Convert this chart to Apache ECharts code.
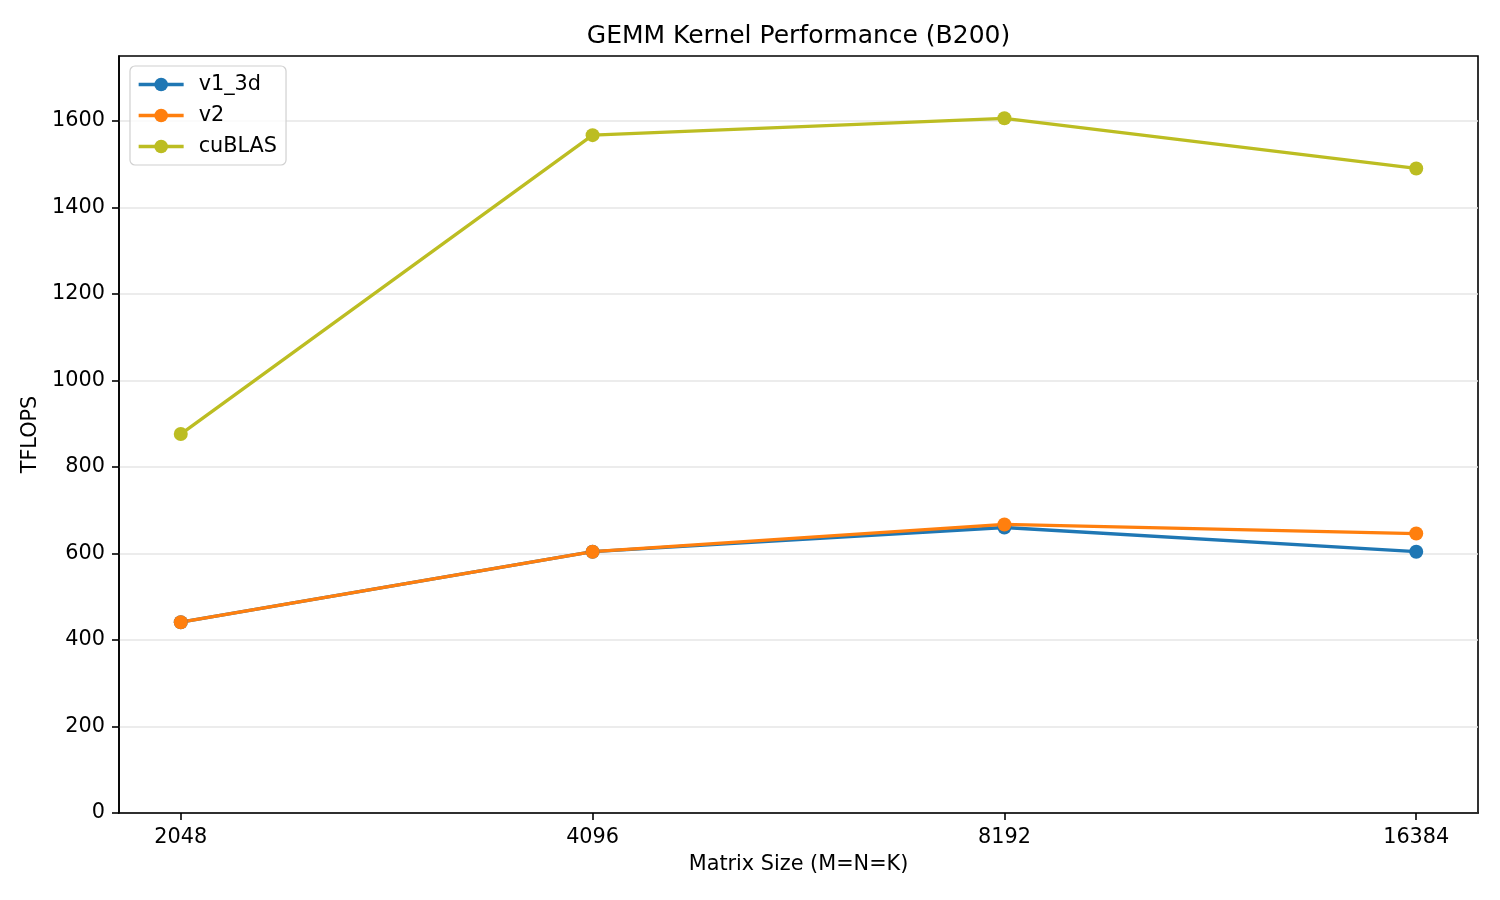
<!DOCTYPE html>
<html>
<head>
<meta charset="utf-8">
<script src="https://cdn.jsdelivr.net/npm/echarts@6/dist/echarts.min.js"></script>
<style>html,body{margin:0;padding:0;background:#fff}#c{width:1500px;height:900px}</style>
</head>
<body>
<div id="c"></div>
<script>
const sizes = ['2048', '4096', '8192', '16384'];
const v1_3d = [441, 604, 660, 604];
const v2 = [441, 604, 667, 646];
const cublas = [876, 1567, 1606, 1490];
const yTicks = [0, 200, 400, 600, 800, 1000, 1200, 1400, 1600];
const seriesNames = ['v1_3d', 'v2', 'cuBLAS'];
const colors = ['#1f77b4', '#ff7f0e', '#bcbd22'];

const FONT = 'DejaVu Sans';
const idx = sizes.map((s, i) => i);
const toPairs = arr => arr.map((v, i) => [i, v]);

const chart = echarts.init(document.getElementById('c'), null, {renderer: 'canvas'});
const mk = (name, data, color) => ({
  name: name,
  type: 'line',
  data: toPairs(data),
  symbol: 'circle',
  symbolSize: 14,
  lineStyle: {width: 3.3, color: color},
  itemStyle: {color: color},
  emphasis: {disabled: true}
});

chart.setOption({
  animation: false,
  textStyle: {fontFamily: FONT},
  graphic: [{
    type: 'text',
    x: 798.5, y: 36,
    style: {text: 'GEMM Kernel Performance (B200)', fontFamily: FONT, fontSize: 25, fill: '#000',
            textAlign: 'center', textVerticalAlign: 'middle'}
  }],
  grid: {left: 119, right: 22, top: 56, bottom: 87, show: true, borderColor: '#000', borderWidth: 1.6, backgroundColor: 'transparent'},
  legend: {
    orient: 'vertical',
    left: 130, top: 66,
    data: seriesNames,
    itemWidth: 45, itemHeight: 17, itemGap: 10,
    padding: [8, 9, 8, 7],
    backgroundColor: 'rgba(255,255,255,0.8)',
    borderColor: '#d0d0d0', borderWidth: 1.2, borderRadius: 5,
    lineStyle: {width: 3.3},
    textStyle: {fontFamily: FONT, fontSize: 20.8, color: '#000', lineHeight: 21, padding: [0, 0, 0, 10]}
  },
  xAxis: {
    type: 'value',
    min: -0.15, max: 3.15,
    name: 'Matrix Size (M=N=K)',
    nameLocation: 'middle',
    nameGap: 41,
    nameTextStyle: {fontFamily: FONT, fontSize: 20.8, color: '#000'},
    axisLine: {show: true, onZero: false, lineStyle: {color: '#000', width: 1.6}},
    axisTick: {show: true, length: 7, lineStyle: {color: '#000', width: 1.6}, customValues: idx},
    axisLabel: {fontFamily: FONT, fontSize: 20.8, color: '#000', margin: 14, customValues: idx,
                formatter: v => sizes[Math.round(v)]},
    splitLine: {show: false}
  },
  yAxis: {
    type: 'value',
    min: 0, max: 1750, interval: 200,
    name: 'TFLOPS',
    nameLocation: 'middle',
    nameGap: 66,
    nameRotate: 90,
    nameTextStyle: {fontFamily: FONT, fontSize: 20.8, color: '#000'},
    axisLine: {show: true, onZero: false, lineStyle: {color: '#000', width: 1.6}},
    axisTick: {show: true, length: 7, lineStyle: {color: '#000', width: 1.6}, customValues: yTicks},
    axisLabel: {fontFamily: FONT, fontSize: 20.8, color: '#000', margin: 14, customValues: yTicks,
                padding: [4, 0, 0, 0], formatter: v => String(v)},
    splitLine: {show: true, lineStyle: {color: '#e6e6e6', width: 1.6}}
  },
  series: [
    mk(seriesNames[0], v1_3d, colors[0]),
    mk(seriesNames[1], v2, colors[1]),
    mk(seriesNames[2], cublas, colors[2])
  ]
});
</script>
</body>
</html>
